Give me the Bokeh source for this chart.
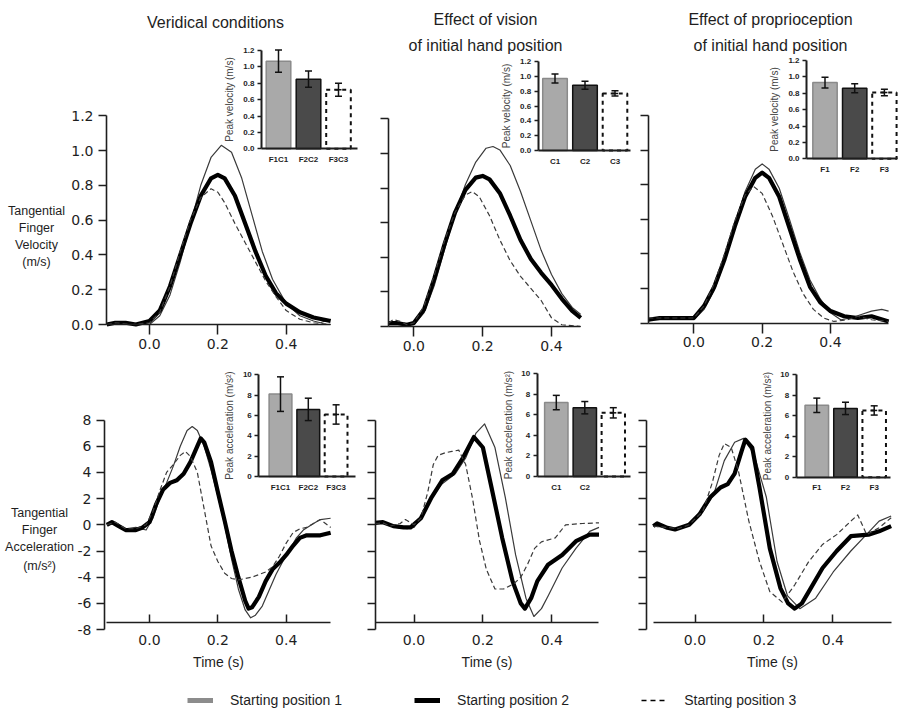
from bokeh.plotting import figure
from bokeh.models import Range1d, LinearAxis, FixedTicker, Label, Legend, LegendItem
from bokeh.embed import file_html
from bokeh.resources import INLINE

W, H, OFF = 900, 710, 0
NAN = float("nan")

# ---------------- data ----------------
panel_titles = ["Veridical conditions", "Effect of vision", "of initial hand position",
                "Effect of proprioception", "of initial hand position"]
vel_title_lines = ["Tangential", "Finger", "Velocity", "(m/s)"]
acc_title_lines = ["Tangential", "Finger", "Acceleration", "(m/s\u00b2)"]
time_label = "Time (s)"
legend_labels = ["Starting position 1", "Starting position 2", "Starting position 3"]

vel_ticks = [0.0, 0.2, 0.4, 0.6, 0.8, 1.0, 1.2]
vel_tick_labels = ["0.0", "0.2", "0.4", "0.6", "0.8", "1.0", "1.2"]
acc_ticks = [-8, -6, -4, -2, 0, 2, 4, 6, 8]
acc_tick_labels = ["-8", "-6", "-4", "-2", "0", "2", "4", "6", "8"]
time_ticks = [0.0, 0.2, 0.4]
time_tick_labels = ["0.0", "0.2", "0.4"]

# velocity, veridical
vel1_t1 = [-0.125, -0.1, -0.05, 0.0, 0.03, 0.06, 0.09, 0.12, 0.15, 0.18, 0.21, 0.24, 0.27, 0.30, 0.33, 0.36, 0.40, 0.44, 0.48, 0.50, 0.53]
vel1_p1 = [0.00, 0.005, 0.0, 0.0, 0.05, 0.17, 0.36, 0.58, 0.80, 0.96, 1.03, 0.99, 0.84, 0.63, 0.42, 0.26, 0.12, 0.05, 0.02, 0.01, 0.03]
vel1_t2 = [-0.125, -0.1, -0.07, -0.04, 0.0, 0.03, 0.06, 0.09, 0.12, 0.15, 0.18, 0.20, 0.22, 0.25, 0.28, 0.31, 0.34, 0.37, 0.40, 0.44, 0.48, 0.53]
vel1_p2 = [0.0, 0.01, 0.01, 0.0, 0.02, 0.08, 0.22, 0.40, 0.58, 0.74, 0.84, 0.86, 0.84, 0.74, 0.58, 0.42, 0.28, 0.18, 0.12, 0.07, 0.04, 0.02]
vel1_t3 = [-0.125, -0.1, -0.05, 0.0, 0.03, 0.06, 0.09, 0.12, 0.15, 0.18, 0.20, 0.22, 0.25, 0.28, 0.31, 0.34, 0.37, 0.40, 0.44, 0.48, 0.53]
vel1_p3 = [0.0, 0.01, 0.0, 0.01, 0.07, 0.22, 0.42, 0.60, 0.73, 0.78, 0.76, 0.70, 0.58, 0.47, 0.36, 0.25, 0.16, 0.08, 0.03, 0.01, 0.0]

# velocity, vision
vel2_t1 = [-0.073, -0.04, 0.0, 0.03, 0.06, 0.09, 0.12, 0.15, 0.18, 0.21, 0.23, 0.25, 0.28, 0.31, 0.34, 0.37, 0.40, 0.43, 0.46, 0.485]
vel2_p1 = [0.01, 0.01, 0.01, 0.08, 0.24, 0.45, 0.65, 0.82, 0.95, 1.03, 1.04, 1.02, 0.93, 0.78, 0.61, 0.44, 0.30, 0.19, 0.11, 0.07]
vel2_t2 = [-0.073, -0.05, -0.02, 0.0, 0.03, 0.06, 0.09, 0.12, 0.15, 0.18, 0.20, 0.22, 0.25, 0.28, 0.31, 0.34, 0.37, 0.40, 0.43, 0.46, 0.485]
vel2_p2 = [0.02, 0.02, 0.01, 0.02, 0.10, 0.28, 0.48, 0.66, 0.79, 0.86, 0.87, 0.85, 0.77, 0.64, 0.50, 0.39, 0.31, 0.24, 0.16, 0.09, 0.05]
vel2_t3 = [-0.073, -0.06, -0.04, -0.02, 0.0, 0.03, 0.06, 0.09, 0.12, 0.15, 0.17, 0.19, 0.22, 0.25, 0.28, 0.31, 0.34, 0.37, 0.40, 0.43, 0.485]
vel2_p3 = [0.02, 0.04, 0.03, 0.01, 0.02, 0.12, 0.30, 0.50, 0.66, 0.76, 0.78, 0.75, 0.64, 0.50, 0.38, 0.29, 0.22, 0.15, 0.05, 0.01, 0.0]

# velocity, proprioception
vel3_t1 = [-0.133, -0.05, 0.0, 0.03, 0.06, 0.09, 0.12, 0.15, 0.18, 0.20, 0.22, 0.25, 0.28, 0.31, 0.34, 0.37, 0.40, 0.43, 0.46, 0.49, 0.52, 0.55, 0.57]
vel3_p1 = [0.02, 0.02, 0.02, 0.08, 0.19, 0.36, 0.57, 0.76, 0.89, 0.92, 0.89, 0.78, 0.60, 0.41, 0.25, 0.14, 0.06, 0.02, 0.03, 0.05, 0.07, 0.08, 0.07]
vel3_t2 = [-0.133, -0.1, -0.05, 0.0, 0.03, 0.06, 0.09, 0.12, 0.15, 0.18, 0.20, 0.22, 0.25, 0.28, 0.31, 0.34, 0.37, 0.40, 0.44, 0.48, 0.52, 0.57]
vel3_p2 = [0.02, 0.03, 0.03, 0.03, 0.10, 0.21, 0.37, 0.56, 0.73, 0.84, 0.87, 0.84, 0.73, 0.55, 0.37, 0.21, 0.12, 0.07, 0.04, 0.03, 0.04, 0.01]
vel3_t3 = [-0.133, -0.05, 0.0, 0.03, 0.06, 0.09, 0.12, 0.15, 0.175, 0.20, 0.23, 0.26, 0.29, 0.32, 0.35, 0.38, 0.41, 0.45, 0.48, 0.52, 0.57]
vel3_p3 = [0.03, 0.03, 0.03, 0.10, 0.23, 0.40, 0.59, 0.74, 0.79, 0.75, 0.62, 0.46, 0.30, 0.17, 0.08, 0.03, 0.01, 0.02, 0.04, 0.02, 0.01]

# acceleration, veridical
acc1_t1 = [-0.125, -0.1, -0.07, -0.04, -0.01, 0.01, 0.03, 0.05, 0.07, 0.09, 0.11, 0.125, 0.14, 0.16, 0.18, 0.20, 0.22, 0.24, 0.26, 0.28, 0.296, 0.31, 0.33, 0.35, 0.37, 0.39, 0.41, 0.43, 0.45, 0.48, 0.50, 0.53]
acc1_p1 = [0.0, 0.1, -0.3, -0.2, -0.4, 0.5, 2.0, 3.2, 4.5, 6.0, 7.2, 7.5, 7.2, 6.0, 4.2, 2.2, 0.0, -2.6, -4.9, -6.5, -7.1, -6.9, -6.2, -5.0, -3.8, -2.8, -1.9, -1.0, -0.4, 0.1, 0.4, 0.5]
acc1_t2 = [-0.125, -0.11, -0.09, -0.07, -0.04, -0.02, 0.0, 0.02, 0.04, 0.06, 0.08, 0.10, 0.12, 0.14, 0.15, 0.16, 0.18, 0.20, 0.22, 0.24, 0.26, 0.28, 0.29, 0.30, 0.32, 0.34, 0.36, 0.38, 0.40, 0.42, 0.44, 0.46, 0.48, 0.50, 0.53]
acc1_p2 = [0.0, 0.2, -0.1, -0.4, -0.4, -0.2, 0.2, 1.6, 2.7, 3.2, 3.4, 3.9, 4.8, 6.0, 6.6, 6.3, 4.8, 2.5, 0.3, -2.0, -4.0, -5.8, -6.4, -6.3, -5.5, -4.3, -3.4, -2.9, -2.3, -1.6, -1.0, -0.8, -0.8, -0.8, -0.6]
acc1_t3 = [-0.125, -0.1, -0.07, -0.04, -0.01, 0.01, 0.03, 0.05, 0.07, 0.09, 0.105, 0.12, 0.14, 0.16, 0.18, 0.20, 0.22, 0.24, 0.26, 0.28, 0.30, 0.32, 0.34, 0.36, 0.38, 0.40, 0.42, 0.44, 0.46, 0.48, 0.50, 0.53]
acc1_p3 = [0.0, 0.2, -0.3, -0.3, 0.0, 1.0, 2.6, 4.0, 4.6, 5.3, 5.6, 5.2, 4.0, 1.2, -1.6, -2.8, -3.7, -4.1, -4.2, -4.1, -4.0, -3.8, -3.6, -3.2, -2.4, -1.4, -0.6, -0.3, -0.2, 0.1, 0.4, -0.2]

# acceleration, vision
acc2_t1 = [-0.113, -0.08, -0.05, -0.02, 0.0, 0.02, 0.05, 0.08, 0.12, 0.15, 0.18, 0.205, 0.235, 0.265, 0.295, 0.325, 0.348, 0.37, 0.39, 0.43, 0.47, 0.51, 0.537]
acc2_p1 = [0.1, 0.1, -0.2, -0.3, -0.2, 0.5, 2.0, 3.1, 3.9, 5.1, 7.0, 7.7, 5.9, 2.1, -2.3, -5.6, -7.0, -6.4, -5.4, -3.3, -1.8, -0.5, -0.2]
acc2_t2 = [-0.113, -0.09, -0.06, -0.03, -0.01, 0.02, 0.051, 0.082, 0.113, 0.143, 0.174, 0.20, 0.225, 0.256, 0.286, 0.31, 0.322, 0.34, 0.358, 0.389, 0.43, 0.47, 0.51, 0.537]
acc2_p2 = [0.15, 0.2, -0.1, -0.2, -0.2, 0.5, 2.1, 3.4, 3.9, 5.15, 6.7, 5.9, 2.85, -1.0, -4.3, -6.0, -6.4, -5.6, -4.3, -3.05, -2.3, -1.25, -0.75, -0.75]
acc2_t3 = [-0.113, -0.09, -0.07, -0.04, -0.025, 0.0, 0.02, 0.04, 0.056, 0.07, 0.09, 0.11, 0.13, 0.15, 0.17, 0.19, 0.21, 0.235, 0.26, 0.29, 0.31, 0.33, 0.35, 0.37, 0.41, 0.44, 0.49, 0.537]
acc2_p3 = [0.1, 0.15, -0.1, 0.1, 0.4, 0.0, 0.5, 2.5, 4.6, 5.3, 5.5, 5.6, 5.7, 4.6, 2.0, -1.2, -3.4, -4.9, -4.9, -4.5, -4.0, -3.0, -1.8, -1.3, -1.0, 0.0, 0.1, 0.15]

# acceleration, proprioception
acc3_t1 = [-0.121, -0.08, -0.05, -0.017, 0.023, 0.054, 0.085, 0.115, 0.141, 0.171, 0.207, 0.238, 0.268, 0.304, 0.35, 0.401, 0.452, 0.493, 0.534, 0.569]
acc3_p1 = [-0.1, -0.2, -0.3, 0.0, 1.0, 2.3, 4.9, 6.3, 6.6, 5.4, 2.1, -2.8, -5.4, -6.4, -5.6, -3.6, -2.0, -0.87, 0.28, 0.67]
acc3_t2 = [-0.121, -0.11, -0.08, -0.058, -0.017, 0.013, 0.044, 0.074, 0.095, 0.115, 0.135, 0.146, 0.166, 0.187, 0.217, 0.248, 0.27, 0.289, 0.31, 0.33, 0.37, 0.411, 0.452, 0.503, 0.534, 0.569]
acc3_p2 = [-0.1, 0.1, -0.23, -0.36, 0.0, 0.8, 2.1, 2.85, 3.1, 3.9, 5.6, 6.5, 5.9, 2.85, -1.8, -4.85, -6.0, -6.4, -6.0, -5.1, -3.3, -2.0, -0.87, -0.75, -0.5, -0.1]
acc3_t3 = [-0.121, -0.08, -0.05, -0.017, 0.023, 0.05, 0.07, 0.085, 0.105, 0.126, 0.156, 0.187, 0.217, 0.253, 0.289, 0.33, 0.37, 0.411, 0.452, 0.472, 0.498, 0.534, 0.569]
acc3_p3 = [-0.1, -0.2, -0.3, 0.0, 1.05, 3.2, 5.3, 6.2, 5.9, 4.1, 0.3, -2.8, -5.1, -5.9, -4.6, -2.8, -1.5, -0.75, 0.28, 0.75, -0.75, -0.23, 0.54]

# insets: peak values and error bars
iv1_cats = ["F1C1", "F2C2", "F3C3"]
iv1_mean = [1.07, 0.85, 0.72]
iv1_err = [0.135, 0.10, 0.08]
iv2_cats = ["C1", "C2", "C3"]
iv2_mean = [0.97, 0.88, 0.77]
iv2_err = [0.06, 0.055, 0.035]
iv3_cats = ["F1", "F2", "F3"]
iv3_mean = [0.93, 0.86, 0.81]
iv3_err = [0.065, 0.055, 0.04]
ia1_cats = ["F1C1", "F2C2", "F3C3"]
ia1_mean = [8.1, 6.6, 6.1]
ia1_err = [1.7, 1.1, 0.95]
ia2_cats = ["C1", "C2", ""]
ia2_mean = [7.2, 6.7, 6.2]
ia2_err = [0.7, 0.6, 0.5]
ia3_cats = ["F1", "F2", "F3"]
ia3_mean = [7.0, 6.7, 6.5]
ia3_err = [0.7, 0.6, 0.45]
inset_vel_ticks = [0.0, 0.2, 0.4, 0.6, 0.8, 1.0, 1.2]
inset_vel_tick_labels = ["0.0", "0.2", "0.4", "0.6", "0.8", "1.0", "1.2"]
inset_acc_ticks = [0, 2, 4, 6, 8, 10]
inset_acc_tick_labels = ["0", "2", "4", "6", "8", "10"]
inset_vel_label = "Peak velocity (m/s)"
inset_acc_label = "Peak acceleration (m/s\u00b2)"

# ---------------- layout (reference pixel geometry) ----------------
INK = "#1e1e1e"
THIN = "#3a3a3a"


def xr(v0, p0, v1, p1):
    b = (p1 - p0) / (v1 - v0)
    a = p0 - b * v0
    return Range1d(start=(OFF - a) / b, end=(W + OFF - a) / b)


def yr(v0, p0, v1, p1):
    b = (p1 - p0) / (v1 - v0)
    a = p0 - b * v0
    return Range1d(start=(H + OFF - a) / b, end=(OFF - a) / b)


p = figure(width=W, height=H, x_range=Range1d(0, W), y_range=Range1d(0, H),
           x_axis_type=None, y_axis_type=None, toolbar_location=None,
           output_backend="svg", min_border=0, outline_line_color=None)

main_geo = {
    "v1": dict(x=(0.0, 149.0, 0.4, 285.7), y=(0.0, 324.0, 1.2, 115.2), yloc=-0.1258, xloc=0.0, xb=(-0.1258, 0.53)),
    "v2": dict(x=(0.0, 413.3, 0.4, 551.0), y=(0.0, 326.0, 1.2, 118.3), yloc=-0.0737, xloc=0.0, xb=(-0.0737, 0.485)),
    "v3": dict(x=(0.0, 693.3, 0.4, 830.0), y=(0.0, 322.7, 1.2, 115.0), yloc=-0.1325, xloc=0.0, xb=(-0.1325, 0.57)),
    "a1": dict(x=(0.0, 149.0, 0.4, 285.7), y=(0.0, 524.3, -8.0, 629.1), yloc=-0.1317, xloc=-7.48, xb=(-0.125, 0.53)),
    "a2": dict(x=(0.0, 413.5, 0.4, 551.3), y=(0.0, 524.3, -8.0, 629.1), yloc=-0.1126, xloc=-7.48, xb=(-0.1126, 0.537)),
    "a3": dict(x=(0.0, 694.5, 0.4, 832.4), y=(0.0, 524.3, -8.0, 629.1), yloc=-0.140, xloc=-7.48, xb=(-0.1216, 0.569)),
}
inset_geo = {
    "iv1": dict(x=(1, 278.0, 2, 308.0), y=(0.0, 148.3, 1.2, 50.0), yloc=0.433, xb=(0.433, 3.63)),
    "iv2": dict(x=(1, 554.5, 2, 584.5), y=(0.0, 150.0, 1.2, 61.0), yloc=0.44, xb=(0.44, 3.52)),
    "iv3": dict(x=(1, 824.5, 2, 854.2), y=(0.0, 158.3, 1.2, 60.0), yloc=0.377, xb=(0.377, 3.44)),
    "ia1": dict(x=(1, 280.0, 2, 307.8), y=(0.0, 476.0, 10.0, 374.3), yloc=0.22, xb=(0.22, 3.7)),
    "ia2": dict(x=(1, 555.8, 2, 584.3), y=(0.0, 476.0, 10.0, 373.3), yloc=0.33, xb=(0.33, 3.6)),
    "ia3": dict(x=(1, 816.3, 2, 845.0), y=(0.0, 476.7, 10.0, 374.0), yloc=0.28, xb=(0.28, 3.57)),
}

exr, eyr = {}, {}
for k, g in list(main_geo.items()) + list(inset_geo.items()):
    exr[k] = xr(*g["x"])
    eyr[k] = yr(*g["y"])
p.extra_x_ranges = exr
p.extra_y_ranges = eyr

# ---------------- curves ----------------
curves = {
    "v1": [(vel1_t1, vel1_p1), (vel1_t2, vel1_p2), (vel1_t3, vel1_p3)],
    "v2": [(vel2_t1, vel2_p1), (vel2_t2, vel2_p2), (vel2_t3, vel2_p3)],
    "v3": [(vel3_t1, vel3_p1), (vel3_t2, vel3_p2), (vel3_t3, vel3_p3)],
    "a1": [(acc1_t1, acc1_p1), (acc1_t2, acc1_p2), (acc1_t3, acc1_p3)],
    "a2": [(acc2_t1, acc2_p1), (acc2_t2, acc2_p2), (acc2_t3, acc2_p3)],
    "a3": [(acc3_t1, acc3_p1), (acc3_t2, acc3_p2), (acc3_t3, acc3_p3)],
}
styles = [dict(line_color=THIN, line_width=1.2),
          dict(line_color="black", line_width=4.2),
          dict(line_color=THIN, line_width=1.2, line_dash="5 3")]
for k, cs in curves.items():
    for (t, v), st in zip(cs, styles):
        p.line(t, v, x_range_name=k, y_range_name=k, line_join="round", **st)


def axis_common(ax):
    ax.axis_line_color = INK
    ax.axis_line_width = 1.6
    ax.major_tick_line_color = INK
    ax.major_tick_line_width = 1.5
    ax.minor_tick_line_color = None
    ax.major_label_text_color = INK


# ---------------- main axes ----------------
for k, g in main_geo.items():
    is_vel = k.startswith("v")
    ticks = vel_ticks if is_vel else acc_ticks
    labels = vel_tick_labels if is_vel else acc_tick_labels
    show = k in ("v1", "a1")
    yax = LinearAxis(x_range_name=k, y_range_name=k, fixed_location=g["yloc"],
                     bounds=(ticks[0], ticks[-1]),
                     ticker=FixedTicker(ticks=ticks, minor_ticks=[]),
                     major_label_overrides={t: (l if show else "") for t, l in zip(ticks, labels)},
                     major_tick_out=8, major_tick_in=0, major_label_standoff=5,
                     major_label_text_font="DejaVu Sans", major_label_text_font_size="14px")
    axis_common(yax)
    p.add_layout(yax, "left")
    xax = LinearAxis(x_range_name=k, y_range_name=k, fixed_location=g["xloc"],
                     bounds=g["xb"],
                     ticker=FixedTicker(ticks=time_ticks, minor_ticks=[]),
                     major_label_overrides=dict(zip(time_ticks, time_tick_labels)),
                     major_label_text_font="DejaVu Sans", major_label_text_font_size="14px")
    if is_vel:
        xax.major_tick_out = 10
        xax.major_tick_in = 0
        xax.major_label_standoff = 4
    else:
        xax.major_tick_out = 0
        xax.major_tick_in = 8
        xax.major_label_standoff = 12
        xax.axis_label = time_label
        xax.axis_label_text_font = "Liberation Sans"
        xax.axis_label_text_font_style = "normal"
        xax.axis_label_text_font_size = "14px"
        xax.axis_label_standoff = 6
        xax.axis_label_text_color = INK
    axis_common(xax)
    p.add_layout(xax, "below")

# ---------------- insets ----------------
insets = {
    "iv1": (iv1_cats, iv1_mean, iv1_err), "iv2": (iv2_cats, iv2_mean, iv2_err),
    "iv3": (iv3_cats, iv3_mean, iv3_err), "ia1": (ia1_cats, ia1_mean, ia1_err),
    "ia2": (ia2_cats, ia2_mean, ia2_err), "ia3": (ia3_cats, ia3_mean, ia3_err),
}
for k, (cats, mean, err) in insets.items():
    g = inset_geo[k]
    is_vel = k.startswith("iv")
    pos = list(range(1, len(cats) + 1))
    p.vbar(x=pos[:2], top=mean[:2], width=0.82, bottom=0,
           fill_color=["#a9a9a9", "#4a4a4a"], line_color=["#8a8a8a", "#111111"],
           line_width=1.5, x_range_name=k, y_range_name=k)
    p.vbar(x=pos[2:], top=mean[2:], width=0.82, bottom=0, fill_color="white",
           line_color="#111111", line_width=2, line_dash="4 4",
           x_range_name=k, y_range_name=k)
    lo = [m - e for m, e in zip(mean, err)]
    hi = [m + e for m, e in zip(mean, err)]
    p.segment(x0=pos, y0=lo, x1=pos, y1=hi, line_color="#111111", line_width=1.5,
              x_range_name=k, y_range_name=k)
    for arr in (lo, hi):
        p.scatter(pos, arr, marker="dash", size=7, line_color="#111111", line_width=1.5,
                  x_range_name=k, y_range_name=k)
    p.scatter(pos[2:], mean[2:], marker="dash", size=6, line_color="#111111", line_width=1.5,
              x_range_name=k, y_range_name=k)

    ticks = inset_vel_ticks if is_vel else inset_acc_ticks
    tl = inset_vel_tick_labels if is_vel else inset_acc_tick_labels
    iy = LinearAxis(x_range_name=k, y_range_name=k, fixed_location=g["yloc"],
                    bounds=(ticks[0], ticks[-1]),
                    ticker=FixedTicker(ticks=ticks, minor_ticks=[]),
                    major_label_overrides=dict(zip(ticks, tl)),
                    major_tick_out=4, major_tick_in=0, major_label_standoff=3,
                    major_label_text_font="Liberation Sans", major_label_text_font_size="8px",
                    major_label_text_font_style="bold",
                    axis_label=inset_vel_label if is_vel else inset_acc_label,
                    axis_label_text_font="Liberation Sans", axis_label_text_font_size="10px",
                    axis_label_text_font_style="normal", axis_label_standoff=5)
    axis_common(iy)
    iy.axis_line_width = 2
    p.add_layout(iy, "left")
    ix = LinearAxis(x_range_name=k, y_range_name=k, fixed_location=0,
                    bounds=g["xb"], ticker=FixedTicker(ticks=pos, minor_ticks=[]),
                    major_label_overrides=dict(zip(pos, cats)),
                    major_tick_out=0, major_tick_in=0, major_label_standoff=6,
                    major_label_text_font="Liberation Sans", major_label_text_font_size="8px",
                    major_label_text_font_style="bold")
    axis_common(ix)
    ix.axis_line_width = 2
    p.add_layout(ix, "below")

# ---------------- titles & side labels ----------------
title_pos = [(215, 22), (485, 19), (485, 45), (770, 19), (770, 45)]
for txt, (rx, ry) in zip(panel_titles, title_pos):
    p.add_layout(Label(x=rx - OFF, y=H + OFF - ry, text=txt, text_align="center",
                       text_baseline="middle", text_font="Liberation Sans",
                       text_font_size="16px", text_color=INK))
for lines, cx, ys in ((vel_title_lines, 36, [210, 227, 244, 261]),
                      (acc_title_lines, 39, [512, 529, 546, 565])):
    for txt, ry in zip(lines, ys):
        p.add_layout(Label(x=cx - OFF, y=H + OFF - ry, text=txt, text_align="center",
                           text_baseline="middle", text_font="Liberation Sans",
                           text_font_size="12.5px", text_color=INK))

# ---------------- legend ----------------
lg1 = p.line(x=[NAN], y=[NAN], line_color="#8c8c8c", line_width=5)
lg2 = p.line(x=[NAN], y=[NAN], line_color="black", line_width=5)
lg3 = p.line(x=[NAN], y=[NAN], line_color="black", line_width=1.5, line_dash="5 4")
legend = Legend(items=[LegendItem(label=legend_labels[0], renderers=[lg1]),
                       LegendItem(label=legend_labels[1], renderers=[lg2]),
                       LegendItem(label=legend_labels[2], renderers=[lg3])],
                orientation="horizontal", location=(187, 2), glyph_width=26, glyph_height=14,
                label_standoff=17, spacing=72, padding=0, margin=0,
                border_line_color=None, background_fill_alpha=0,
                label_text_font="Liberation Sans", label_text_font_size="14px",
                label_text_color=INK)
p.add_layout(legend)

open("out.html", "w").write(file_html(p, INLINE))
